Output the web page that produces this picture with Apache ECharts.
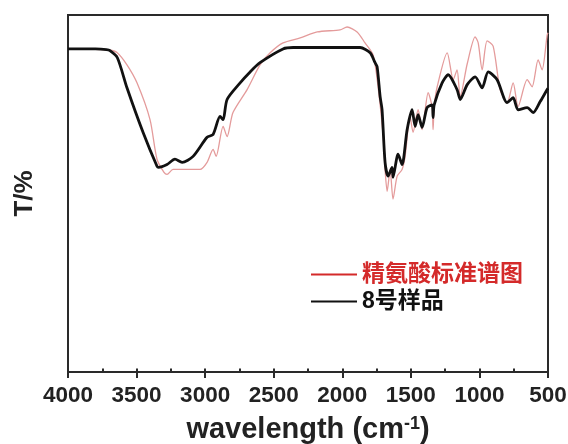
<!DOCTYPE html>
<html><head><meta charset="utf-8">
<script src="https://cdn.jsdelivr.net/npm/echarts@6/dist/echarts.min.js"></script>
<style>html,body{margin:0;padding:0;background:#fff}#c{width:568px;height:444px}</style>
</head><body><div id="c"></div>
<script>
const xTicks = [4000, 3500, 3000, 2500, 2000, 1500, 1000, 500];
const seriesNames = ['精氨酸标准谱图', '8号样品'];
// wavenumber (cm-1), transmittance (arbitrary %)
const refWave = [4000,3800,3700,3643,3570,3497,3402,3351,3300,3278,3234,3100,3037,2986,2942,2920,2869,2840,2797,2694,2600,2526,2432,2307,2183,2016,1965,1892,1834,1775,1740,1700,1688,1673,1651,1630,1600,1564,1542,1506,1484,1447,1418,1374,1345,1338,1330,1308,1235,1191,1163,1140,1089,1031,1009,980,944,900,849,798,754,718,652,616,572,543,506,500];
const refT    = [90.3,90.3,90.1,89.4,85.9,80.8,70.4,59.2,55.5,54.9,56.3,56.3,56.3,58.3,62.0,60.0,68.5,65.6,72.4,78.9,85.9,89.3,92.1,93.5,95.2,95.8,96.6,95.2,92.1,88.7,80.0,65.0,56.3,50.1,56.3,47.9,54.4,56.3,60.0,71.3,66.8,73.2,67.6,78.0,74.0,67.6,74.0,79.7,89.3,81.7,84.5,76.9,86.2,93.8,92.1,84.5,92.7,91.2,78.9,75.2,80.8,74.1,81.7,79.7,87.3,84.5,94.4,95.0];
const smpWave = [4000,3800,3720,3694,3640,3570,3453,3351,3340,3278,3220,3168,3088,2986,2942,2891,2869,2840,2745,2672,2600,2432,2358,2000,1870,1797,1761,1746,1724,1710,1688,1666,1637,1630,1593,1564,1527,1491,1469,1447,1418,1382,1345,1338,1330,1272,1228,1163,1140,1089,1031,980,936,871,798,754,718,652,608,557,506,500];
const smpT    = [90.4,90.4,90.2,89.9,87.9,79.4,66.8,57.2,56.9,57.7,59.2,58.3,60.0,65.4,66.2,71.3,70.4,76.1,80.8,83.9,86.5,90.4,90.8,90.8,90.8,89.3,86.5,85.4,76.9,73.2,58.3,54.4,56.9,54.1,60.6,57.7,67.6,73.2,68.5,71.8,68.2,73.8,74.6,71.0,74.6,80.8,83.1,78.9,76.1,80.3,82.5,79.4,83.9,81.7,75.2,76.6,73.2,73.8,72.4,75.5,78.9,79.2];

const zip = (a, b) => a.map((v, i) => [v, b[i]]);
const FONT = "'Liberation Sans','Noto Sans CJK SC',sans-serif";
const AX = '#2a2a2a';
const chart = echarts.init(document.getElementById('c'), null, {renderer: 'canvas'});
chart.setOption({
  animation: false,
  backgroundColor: '#fff',
  grid: {left: 68, right: 20, top: 15, bottom: 72, show: true, borderColor: AX, borderWidth: 2,
    containLabel: false, outerBoundsMode: 'none'},
  legend: {
    orient: 'vertical', left: 306, top: 258,
    itemWidth: 46, itemHeight: 2, itemGap: 4, icon: 'rect',
    textStyle: {fontFamily: FONT, fontSize: 23, fontWeight: 'bold', color: '#111'},
    data: [
      {name: seriesNames[0], icon: 'rect', itemStyle: {color: '#d42a2a'}, textStyle: {color: '#d42a2a'}},
      {name: seriesNames[1], icon: 'rect', itemStyle: {color: '#111'}, textStyle: {color: '#111'}}
    ]
  },
  xAxis: [{
    type: 'value', inverse: true, min: 500, max: 4000, interval: 500,
    name: 'wavelength (cm{sup|-1})', nameLocation: 'middle', nameGap: 43,
    nameTextStyle: {fontFamily: FONT, fontSize: 29, fontWeight: 'bold', color: '#222',
      rich: {sup: {fontFamily: FONT, fontSize: 18, fontWeight: 'bold', color: '#222', verticalAlign: 'top', padding: [0,0,12,0]}}},
    axisLine: {show: true, onZero: false, lineStyle: {color: AX, width: 2}},
    axisTick: {show: true, inside: false, length: 6, lineStyle: {color: AX, width: 2}},
    splitLine: {show: false},
    axisLabel: {fontFamily: FONT, fontSize: 22.5, fontWeight: 'bold', color: '#222', margin: 13,
      formatter: v => xTicks.includes(v) ? String(v) : ''}
  }, {
    type: 'value', inverse: true, min: 500, max: 4000, interval: 250, position: 'bottom',
    axisLine: {show: false}, axisLabel: {show: false}, splitLine: {show: false},
    axisTick: {show: true, inside: false, length: 3, lineStyle: {color: AX, width: 2}}
  }],
  yAxis: {
    type: 'value', min: -1, max: 100,
    name: 'T/%', nameLocation: 'middle', nameGap: 30, nameRotate: 90,
    nameTextStyle: {fontFamily: FONT, fontSize: 26, fontWeight: 'bold', color: '#222'},
    axisLine: {show: true, lineStyle: {color: AX, width: 2}},
    axisTick: {show: false}, axisLabel: {show: false}, splitLine: {show: false}
  },
  series: [
    {name: seriesNames[0], type: 'line', data: zip(refWave, refT), symbol: 'none', smooth: 0.25,
      lineStyle: {color: '#e49b9b', width: 1.3}, z: 2},
    {name: seriesNames[1], type: 'line', data: zip(smpWave, smpT), symbol: 'none', smooth: 0.25,
      lineStyle: {color: '#111', width: 2.8}, z: 3}
  ]
});
</script></body></html>
